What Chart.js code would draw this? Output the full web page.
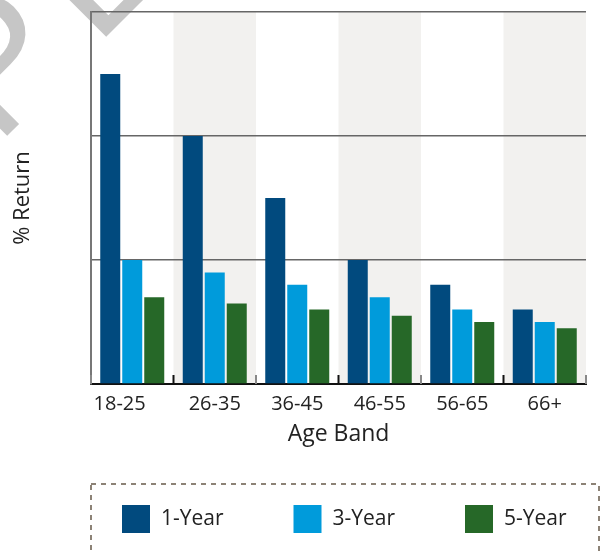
<!DOCTYPE html>
<html>
<head>
<meta charset="utf-8">
<script src="https://cdn.jsdelivr.net/npm/chart.js@4/dist/chart.umd.min.js"></script>
<style>
  html, body { margin: 0; padding: 0; background: #ffffff; }
  #wrap { width: 607px; height: 552px; position: relative; overflow: hidden; }
</style>
</head>
<body>
<div id="wrap"><canvas id="chart" width="607" height="552"></canvas></div>
<script>
// Age bands and average returns (%) per holding period
const categories = ['18-25', '26-35', '36-45', '46-55', '56-65', '66+'];
const seriesNames = ['1-Year', '3-Year', '5-Year'];
const oneYear = [25, 20, 15, 10, 8, 6];
const threeYear = [10, 9, 8, 7, 6, 5];
const fiveYear = [7, 6.5, 6, 5.5, 5, 4.5];
const yTicks = [0, 10, 20, 30];
const seriesColors = ['#014a7e', '#009bdb', '#266828'];

const FONT = '"Open Sans", Lato, sans-serif';
const TEXT = '#222222';

// Shaded background on every second age band, plus inward boundary ticks
const bandPlugin = {
  id: 'bands',
  beforeDraw(chart) {
    const { ctx, chartArea } = chart;
    const x = chart.scales.x;
    // faint watermark behind the chart
    ctx.save();
    ctx.font = '180px "Liberation Sans", Arial, sans-serif';
    ctx.letterSpacing = '20px';
    ctx.fillStyle = '#c6c6c6';
    ctx.translate(95.7, 47.3);
    ctx.rotate(-Math.PI / 4);
    const lead = ctx.measureText('SAMP').width;
    ctx.fillText('SAMPLE', -lead, 0);
    ctx.restore();

    ctx.save();
    ctx.fillStyle = '#f2f1ef';
    categories.forEach((c, i) => {
      if (i % 2 === 1) {
        const l = x.getPixelForValue(i - 0.5);
        const r = x.getPixelForValue(i + 0.5);
        ctx.fillRect(l, chartArea.top, r - l, chartArea.bottom - chartArea.top);
      }
    });
    ctx.restore();
  },
  afterDraw(chart) {
    const { ctx, chartArea } = chart;
    const x = chart.scales.x;
    ctx.save();
    ctx.lineWidth = 2;
    for (let k = 0; k <= categories.length; k++) {
      const px = x.getPixelForValue(k - 0.5);
      ctx.strokeStyle = k % 2 === 1 ? '#111111' : '#888888';
      ctx.beginPath();
      ctx.moveTo(px, chartArea.bottom - 9);
      ctx.lineTo(px, chartArea.bottom);
      ctx.stroke();
    }
    ctx.restore();

    // dashed legend box with the three series
    ctx.save();
    ctx.strokeStyle = '#8c8276';
    ctx.lineWidth = 2;
    ctx.setLineDash([5, 5]);
    ctx.strokeRect(91, 484, 508, 120);
    ctx.setLineDash([]);
    ctx.font = '21px ' + FONT;
    ctx.textBaseline = 'middle';
    ctx.textAlign = 'left';
    chart.data.datasets.forEach((ds, i) => {
      const bx = 122 + i * 171.5;
      ctx.fillStyle = ds.backgroundColor;
      ctx.fillRect(bx, 505, 28, 28);
      ctx.fillStyle = TEXT;
      ctx.fillText(ds.label, bx + 39, 519);
    });
    ctx.restore();
  }
};

new Chart(document.getElementById('chart'), {
  type: 'bar',
  data: {
    labels: categories,
    datasets: [
      { label: seriesNames[0], data: oneYear, backgroundColor: seriesColors[0] },
      { label: seriesNames[1], data: threeYear, backgroundColor: seriesColors[1] },
      { label: seriesNames[2], data: fiveYear, backgroundColor: seriesColors[2] }
    ]
  },
  options: {
    responsive: false,
    animation: false,
    devicePixelRatio: 1,
    layout: { padding: { top: 12, right: 21, bottom: 98, left: 0 } },
    datasets: { bar: { categoryPercentage: 0.8, barPercentage: 20 / 22, borderWidth: 0 } },
    plugins: { legend: { display: false }, tooltip: { enabled: false } },
    scales: {
      x: {
        grid: { display: false, drawTicks: false },
        border: { display: true, color: '#111111', width: 2 },
        ticks: {
          color: TEXT,
          font: { family: FONT, size: 20 },
          padding: 8,
          maxRotation: 0,
          // nudge the first band label slightly left
          callback: (v, i) => i === 0 ? categories[i] + '\u2003 ' : categories[i]
        },
        title: {
          display: true,
          text: 'Age Band',
          color: TEXT,
          font: { family: FONT, size: 23 },
          padding: { top: 0, bottom: 6 }
        },
        afterFit(scale) { scale.height = 70; }
      },
      y: {
        min: yTicks[0],
        max: yTicks[yTicks.length - 1],
        afterBuildTicks(scale) { scale.ticks = yTicks.map(v => ({ value: v })); },
        ticks: { display: false },
        grid: { color: '#666666', lineWidth: 1.5, drawTicks: false },
        border: { display: true, color: '#777777', width: 2 },
        title: {
          display: true,
          text: '% Return',
          color: TEXT,
          font: { family: FONT, size: 22 },
          padding: { top: 10, bottom: 0 }
        },
        afterFit(scale) { scale.width = 91; }
      }
    }
  },
  plugins: [bandPlugin]
});
</script>
</body>
</html>
